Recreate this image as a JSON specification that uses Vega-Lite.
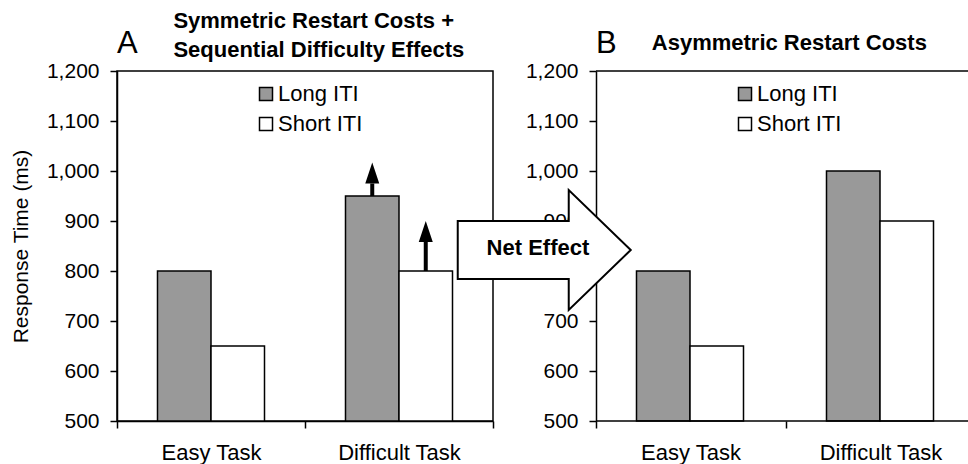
{
  "$schema": "https://vega.github.io/schema/vega-lite/v6.json",
  "padding": {"left": 9, "top": 9, "right": 0, "bottom": 0},
  "bounds": "flush",
  "spacing": 103,
  "background": "white",
  "config": {
    "font": "Liberation Sans",
    "view": {"stroke": null},
    "axis": {
      "domainColor": "black", "domainWidth": 1.5,
      "tickColor": "black", "tickWidth": 1.5, "tickSize": 7,
      "labelColor": "black", "labelFont": "Liberation Sans",
      "titleColor": "black", "titleFont": "Liberation Sans", "titleFontWeight": "normal",
      "grid": false, "labelFlush": false, "labelOverlap": false
    },
    "legend": {
      "orient": "none", "legendX": 138, "legendY": 12, "title": null,
      "symbolType": "square", "symbolSize": 169,
      "symbolStrokeColor": "black", "symbolStrokeWidth": 1.5, "symbolOpacity": 1,
      "labelFont": "Liberation Sans", "labelFontSize": 22, "labelColor": "black",
      "labelOffset": 1, "rowPadding": 8, "padding": 0, "labelLimit": 0
    }
  },
  "datasets": {
    "rt": [
      {"panel": "A", "task": "Easy Task", "iti": "Long ITI", "rt": 800},
      {"panel": "A", "task": "Easy Task", "iti": "Short ITI", "rt": 650},
      {"panel": "A", "task": "Difficult Task", "iti": "Long ITI", "rt": 950},
      {"panel": "A", "task": "Difficult Task", "iti": "Short ITI", "rt": 800},
      {"panel": "B", "task": "Easy Task", "iti": "Long ITI", "rt": 800},
      {"panel": "B", "task": "Easy Task", "iti": "Short ITI", "rt": 650},
      {"panel": "B", "task": "Difficult Task", "iti": "Long ITI", "rt": 1000},
      {"panel": "B", "task": "Difficult Task", "iti": "Short ITI", "rt": 900}
    ],
    "arrows": [
      {"task": "Difficult Task", "iti": "Long ITI", "from": 950, "to": 975},
      {"task": "Difficult Task", "iti": "Short ITI", "from": 800, "to": 858}
    ],
    "one": [{"k": 1}]
  },
  "resolve": {"scale": {"fill": "independent"}, "legend": {"fill": "independent"}},
  "hconcat": [
    {
      "width": 376, "height": 350,
      "view": {"stroke": "black", "strokeWidth": 1.5},
      "resolve": {"scale": {"x": "independent"}},
      "layer": [
        {
          "layer": [
            {
              "data": {"name": "rt"},
              "transform": [{"filter": "datum.panel === 'A'"}],
              "mark": {"type": "bar", "stroke": "black", "strokeWidth": 1.5, "opacity": 1},
              "encoding": {
                "x": {"field": "task", "type": "nominal", "sort": ["Easy Task", "Difficult Task"],
                      "scale": {"paddingInner": 0, "paddingOuter": 0},
                      "axis": {"title": null, "labelAngle": 0, "tickBand": "extent", "labelPadding": 14, "labelFontSize": 22}},
                "xOffset": {"field": "iti", "type": "nominal", "sort": ["Long ITI", "Short ITI"],
                      "scale": {"paddingInner": 0, "paddingOuter": 0.757}},
                "y": {"field": "rt", "type": "quantitative",
                      "scale": {"domain": [500, 1200], "nice": false, "zero": false},
                      "axis": {"title": "Response Time (ms)", "values": [500, 600, 700, 800, 900, 1000, 1100, 1200], "format": ",d",
                               "labelPadding": 11, "labelFontSize": 21, "titleFontSize": 21, "titlePadding": 15}},
                "y2": {"datum": 500},
                "fill": {"field": "iti", "type": "nominal",
                         "scale": {"domain": ["Long ITI", "Short ITI"], "range": ["#999999", "#ffffff"]}}
              }
            },
            {
              "data": {"name": "arrows"},
              "mark": {"type": "rule", "color": "black", "strokeWidth": 4},
              "encoding": {
                "x": {"field": "task", "type": "nominal", "sort": ["Easy Task", "Difficult Task"]},
                "xOffset": {"field": "iti", "type": "nominal", "sort": ["Long ITI", "Short ITI"]},
                "y": {"field": "from", "type": "quantitative"},
                "y2": {"field": "to"}
              }
            },
            {
              "data": {"name": "arrows"},
              "mark": {"type": "point", "shape": "M -7 0 L 7 0 L 0 -21 Z", "size": 4, "filled": true, "fill": "black", "strokeWidth": 0, "opacity": 1},
              "encoding": {
                "x": {"field": "task", "type": "nominal", "sort": ["Easy Task", "Difficult Task"]},
                "xOffset": {"field": "iti", "type": "nominal", "sort": ["Long ITI", "Short ITI"]},
                "y": {"field": "to", "type": "quantitative"}
              }
            }
          ]
        },
        {
          "data": {"name": "one"},
          "mark": {"type": "text", "text": "A", "fontSize": 31, "align": "left", "baseline": "alphabetic", "color": "black"},
          "encoding": {
            "x": {"datum": 0, "type": "quantitative", "scale": {"domain": [0, 2]}, "axis": null},
            "y": {"datum": 1236, "type": "quantitative"}
          }
        },
        {
          "data": {"name": "one"},
          "mark": {"type": "text", "text": "Symmetric Restart Costs +", "fontSize": 22, "fontWeight": "bold", "align": "left", "baseline": "alphabetic", "color": "black"},
          "encoding": {
            "x": {"datum": 0.3, "type": "quantitative", "scale": {"domain": [0, 2]}, "axis": null},
            "y": {"datum": 1286, "type": "quantitative"}
          }
        },
        {
          "data": {"name": "one"},
          "mark": {"type": "text", "text": "Sequential Difficulty Effects", "fontSize": 22, "fontWeight": "bold", "align": "left", "baseline": "alphabetic", "color": "black"},
          "encoding": {
            "x": {"datum": 0.3, "type": "quantitative", "scale": {"domain": [0, 2]}, "axis": null},
            "y": {"datum": 1228, "type": "quantitative"}
          }
        }
      ]
    },
    {
      "width": 372, "height": 350,
      "view": {"stroke": null},
      "resolve": {"scale": {"x": "independent"}},
      "layer": [
        {
          "layer": [
            {
              "data": {"name": "one"},
              "mark": {"type": "rule", "color": "black", "strokeWidth": 1.5},
              "encoding": {"y": {"datum": 1200, "type": "quantitative"}}
            },
            {
              "data": {"name": "rt"},
              "transform": [{"filter": "datum.panel === 'B'"}],
              "mark": {"type": "bar", "stroke": "black", "strokeWidth": 1.5, "opacity": 1},
              "encoding": {
                "x": {"field": "task", "type": "nominal", "sort": ["Easy Task", "Difficult Task"],
                      "scale": {"paddingInner": 0, "paddingOuter": 0, "range": [0, 380]},
                      "axis": {"title": null, "labelAngle": 0, "bandPosition": 0, "domain": false, "labelPadding": 14, "labelFontSize": 22}},
                "xOffset": {"field": "iti", "type": "nominal", "sort": ["Long ITI", "Short ITI"],
                      "scale": {"paddingInner": 0, "paddingOuter": 0.757}},
                "y": {"field": "rt", "type": "quantitative",
                      "scale": {"domain": [500, 1200], "nice": false, "zero": false},
                      "axis": {"title": null, "values": [500, 600, 700, 800, 900, 1000, 1100, 1200], "format": ",d",
                               "labelPadding": 11, "labelFontSize": 21}},
                "y2": {"datum": 500},
                "fill": {"field": "iti", "type": "nominal",
                         "scale": {"domain": ["Long ITI", "Short ITI"], "range": ["#999999", "#ffffff"]}}
              }
            },
            {
              "data": {"name": "one"},
              "mark": {"type": "rule", "color": "black", "strokeWidth": 1.5},
              "encoding": {"y": {"datum": 500, "type": "quantitative"}}
            }
          ]
        },
        {
          "data": {"name": "one"},
          "mark": {"type": "point", "shape": "M -62 -29 L 49 -29 L 49 -60 L 111 0 L 49 60 L 49 29 L -62 29 Z", "size": 4, "filled": false, "fill": "white", "stroke": "black", "strokeWidth": 2, "opacity": 1, "fillOpacity": 1},
          "encoding": {
            "x": {"datum": -0.41, "type": "quantitative", "scale": {"domain": [0, 2]}, "axis": null},
            "y": {"datum": 842, "type": "quantitative"}
          }
        },
        {
          "data": {"name": "one"},
          "mark": {"type": "text", "text": "Net Effect", "fontSize": 22, "fontWeight": "bold", "align": "center", "baseline": "middle", "color": "black"},
          "encoding": {
            "x": {"datum": -0.312, "type": "quantitative", "scale": {"domain": [0, 2]}, "axis": null},
            "y": {"datum": 846, "type": "quantitative"}
          }
        },
        {
          "data": {"name": "one"},
          "mark": {"type": "text", "text": "B", "fontSize": 31, "align": "left", "baseline": "alphabetic", "color": "black"},
          "encoding": {
            "x": {"datum": 0, "type": "quantitative", "scale": {"domain": [0, 2]}, "axis": null},
            "y": {"datum": 1236, "type": "quantitative"}
          }
        },
        {
          "data": {"name": "one"},
          "mark": {"type": "text", "text": "Asymmetric Restart Costs", "fontSize": 22, "fontWeight": "bold", "align": "left", "baseline": "alphabetic", "color": "black"},
          "encoding": {
            "x": {"datum": 0.3, "type": "quantitative", "scale": {"domain": [0, 2]}, "axis": null},
            "y": {"datum": 1242, "type": "quantitative"}
          }
        }
      ]
    }
  ]
}
